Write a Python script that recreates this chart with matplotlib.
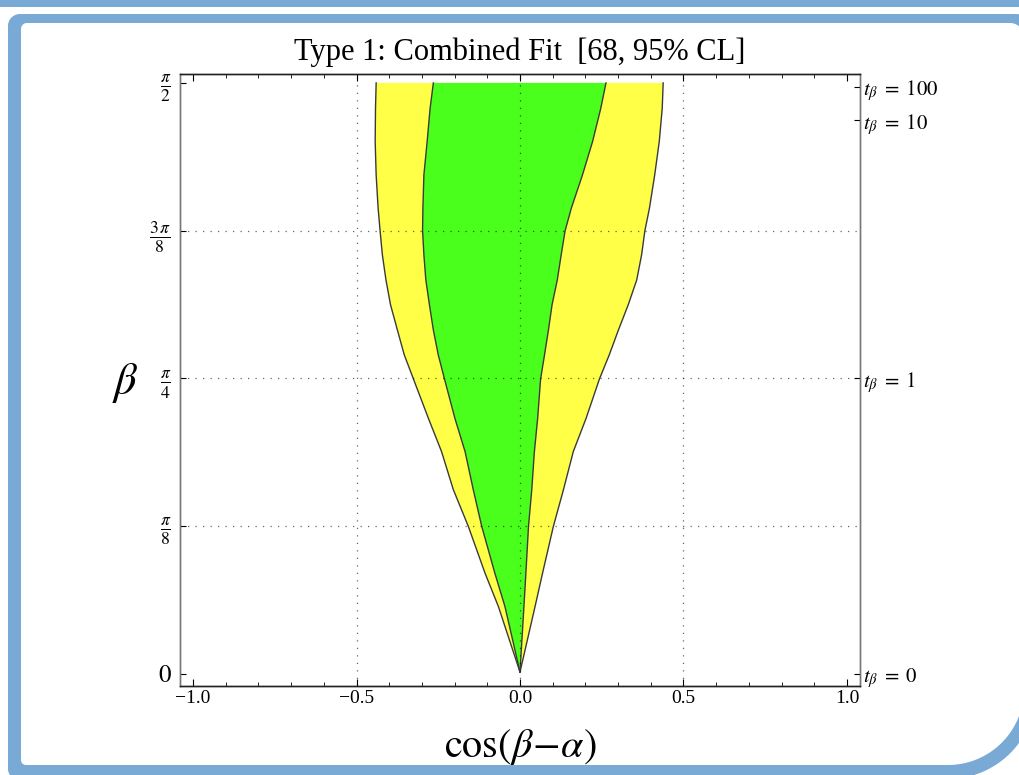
import numpy as np
import matplotlib
matplotlib.use("Agg")
import matplotlib.pyplot as plt
from matplotlib.patches import Polygon, Rectangle
from matplotlib.transforms import IdentityTransform

plt.rcParams['font.family'] = ['Liberation Serif', 'DejaVu Serif']
plt.rcParams['mathtext.fontset'] = 'stix'

# ---------------- data ----------------
beta = [0.005, 0.179, 0.268, 0.392, 0.490, 0.591, 0.679, 0.784, 0.848, 0.914,
        0.981, 1.047, 1.114, 1.178, 1.238, 1.326, 1.415, 1.503, 1.5708]
yellow_left = [0.0, -0.066, -0.107, -0.158, -0.204, -0.240, -0.280, -0.326, -0.354, -0.375,
               -0.396, -0.410, -0.421, -0.428, -0.434, -0.440, -0.443, -0.442, -0.440]
green_left = [0.0, -0.046, -0.077, -0.117, -0.143, -0.168, -0.199, -0.231, -0.250, -0.265,
              -0.277, -0.288, -0.294, -0.298, -0.297, -0.294, -0.284, -0.275, -0.265]
green_right = [0.0, 0.012, 0.018, 0.026, 0.036, 0.044, 0.054, 0.063, 0.075, 0.087,
               0.098, 0.114, 0.126, 0.138, 0.157, 0.191, 0.222, 0.247, 0.263]
yellow_right = [0.0, 0.046, 0.069, 0.102, 0.133, 0.163, 0.202, 0.243, 0.273, 0.301,
                0.331, 0.357, 0.372, 0.382, 0.396, 0.412, 0.426, 0.435, 0.438]

x_major = [-1.0, -0.5, 0.0, 0.5, 1.0]
x_major_labels = ['\u22121.0', '\u22120.5', '0.0', '0.5', '1.0']
y_major = [0, np.pi / 8, np.pi / 4, 3 * np.pi / 8, np.pi / 2]
y_major_labels = [r'$0$', r'$\frac{\pi}{8}$', r'$\frac{\pi}{4}$', r'$\frac{3\,\pi}{8}$', r'$\frac{\pi}{2}$']
tb_values = [0, 1, 10, 100]
tb_labels = [r'$t_\beta\;=\;0$', r'$t_\beta\;=\;1$', r'$t_\beta\;=\;10$', r'$t_\beta\;=\;100$']

title = 'Type 1: Combined Fit  [68, 95% CL]'

YELLOW = '#ffff47'
GREEN = '#4bff1c'
EDGE = '#3a3a3a'
BLUE = '#79aad6'

W, H = 1019, 775
fig = plt.figure(figsize=(W / 100, H / 100), dpi=100)
fig.patch.set_facecolor('white')


def rounded_rect(x0, y0, x1, y1, r):
    """r = radii for (bottom-left, bottom-right, top-right, top-left), pixel coords."""
    pts = []
    corners = [((x0 + r[0], y0 + r[0]), 180, 270, r[0]),
               ((x1 - r[1], y0 + r[1]), 270, 360, r[1]),
               ((x1 - r[2], y1 - r[2]), 0, 90, r[2]),
               ((x0 + r[3], y1 - r[3]), 90, 180, r[3])]
    for (cx, cy), a0, a1, rr in corners:
        t = np.radians(np.linspace(a0, a1, 30))
        pts += list(zip(cx + rr * np.cos(t), cy + rr * np.sin(t)))
    return pts


# decorative slide frame (pixel coordinates)
fig.add_artist(Rectangle((0, H - 7), W, 7, transform=IdentityTransform(),
                         facecolor=BLUE, edgecolor='none', zorder=0))
fig.add_artist(Polygon(rounded_rect(8, -4, 1036, H - 14, (10, 88, 20, 12)),
                       closed=True, transform=IdentityTransform(),
                       facecolor=BLUE, edgecolor='none', zorder=0))
fig.add_artist(Polygon(rounded_rect(21, 10, 1024, H - 23, (5, 76, 14, 6)),
                       closed=True, transform=IdentityTransform(),
                       facecolor='white', edgecolor='none', zorder=0))

ax = fig.add_axes([180 / W, 1 - 686 / H, (860 - 180) / W, (686 - 74) / H])
ax.set_facecolor('none')

# 95% region
ax.fill(yellow_left + yellow_right[::-1], beta + beta[::-1],
        facecolor=YELLOW, edgecolor='none', zorder=1)
ax.plot(yellow_left, beta, color=EDGE, lw=1.0, zorder=2, solid_joinstyle='round')
ax.plot(yellow_right, beta, color=EDGE, lw=1.0, zorder=2, solid_joinstyle='round')
# 68% region
ax.fill(green_left + green_right[::-1], beta + beta[::-1],
        facecolor=GREEN, edgecolor='none', zorder=3)
ax.plot(green_left, beta, color=EDGE, lw=1.0, zorder=4, solid_joinstyle='round')
ax.plot(green_right, beta, color=EDGE, lw=1.0, zorder=4, solid_joinstyle='round')

ax.set_xlim(-1.04, 1.04)
ax.set_ylim(-0.032, 1.5945)

# grid lines (dotted)
for gx in [-0.5, 0.0, 0.5]:
    ax.axvline(gx, color='black', lw=0.9, ls=(0, (1, 5)), alpha=0.6, zorder=5)
for gy in [np.pi / 8, np.pi / 4, 3 * np.pi / 8]:
    ax.axhline(gy, color='black', lw=0.9, ls=(0, (1, 5)), alpha=0.6, zorder=5)

ax.set_xticks(x_major)
ax.set_xticklabels(x_major_labels, fontsize=14)
ax.set_xticks(np.arange(-1.0, 1.05, 0.1), minor=True)
ax.set_yticks(y_major)
ax.set_yticklabels(y_major_labels, fontsize=18)
ax.tick_params(axis='x', which='major', direction='in', length=5, width=0.8,
               top=True, pad=3, colors='black')
ax.tick_params(axis='x', which='minor', direction='in', length=3, width=0.6, top=True)
ax.tick_params(axis='y', which='major', direction='in', length=4, width=0.8,
               right=False, pad=6)

axr = ax.twinx()
axr.set_ylim(ax.get_ylim())
axr.set_yticks([np.arctan(v) for v in tb_values])
axr.set_yticklabels(tb_labels, fontsize=15)
axr.tick_params(axis='y', direction='in', length=4, width=0.8, pad=2)
axr.yaxis.set_minor_locator(plt.NullLocator())

for a in (ax, axr):
    a.spines['left'].set_color('#777777')
    a.spines['right'].set_color('#777777')
    a.spines['top'].set_color('#222222')
    a.spines['bottom'].set_color('#222222')
    for s in a.spines.values():
        s.set_linewidth(1.0)

ax.set_title(title, fontsize=22, pad=10)
ax.set_xlabel(r'$\cos(\beta\!-\!\alpha)$', fontsize=29, labelpad=14)
fig.text(125 / W, 1 - 383 / H, r'$\beta$', fontsize=32, ha='center', va='center')

fig.savefig('out.png', dpi=100)
